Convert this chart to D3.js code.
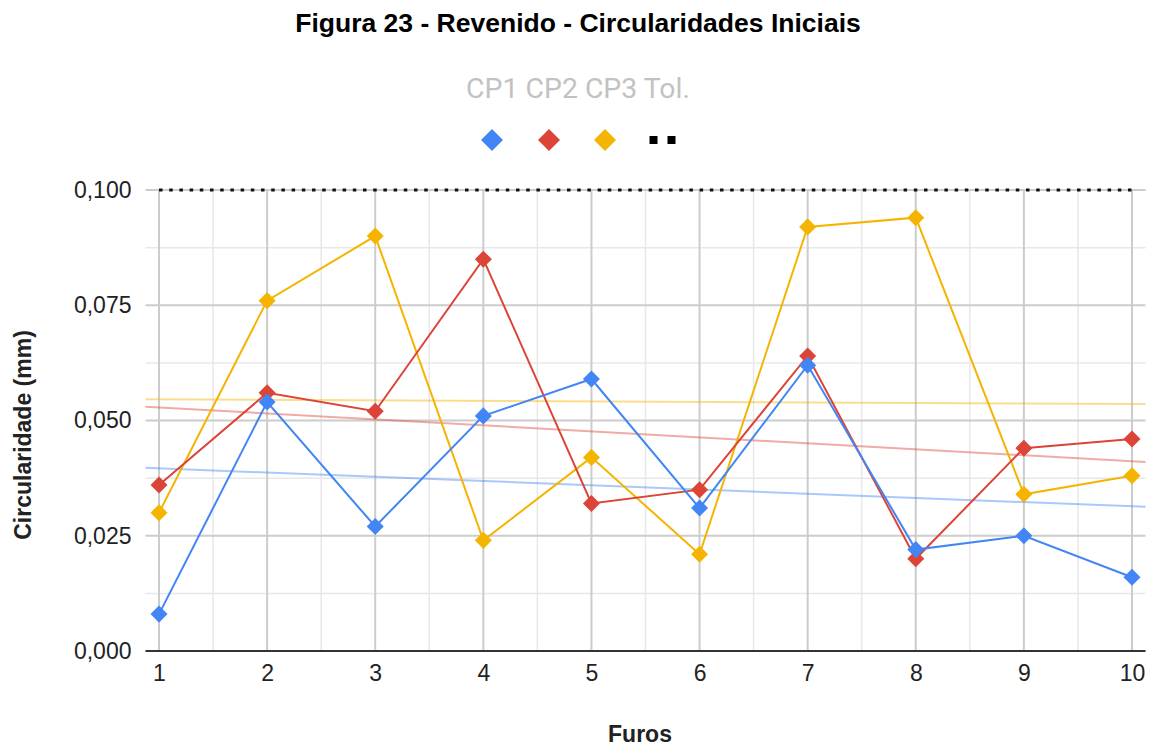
<!DOCTYPE html>
<html>
<head>
<meta charset="utf-8">
<script src="https://cdn.jsdelivr.net/npm/d3@7"></script>
<style>
  body { margin: 0; background: #fff; }
  svg { display: block; }
</style>
</head>
<body>
<div id="chart"></div>
<script>
// holes on the x axis
var furos = [1, 2, 3, 4, 5, 6, 7, 8, 9, 10];

// circularity per specimen (mm)
var cp1 = [0.008, 0.054, 0.027, 0.051, 0.059, 0.031, 0.062, 0.022, 0.025, 0.016];
var cp2 = [0.036, 0.056, 0.052, 0.085, 0.032, 0.035, 0.064, 0.020, 0.044, 0.046];
var cp3 = [0.030, 0.076, 0.090, 0.024, 0.042, 0.021, 0.092, 0.094, 0.034, 0.038];
var tol = [0.1, 0.1, 0.1, 0.1, 0.1, 0.1, 0.1, 0.1, 0.1, 0.1];

var legendLabels = ["CP1", "CP2", "CP3", "Tol."];
var yTicks = [0, 0.025, 0.05, 0.075, 0.1];
var yMinor = [0.0125, 0.0375, 0.0625, 0.0875];
var xMinor = [1.5, 2.5, 3.5, 4.5, 5.5, 6.5, 7.5, 8.5, 9.5];

var colors = ["#4285f4", "#db4437", "#f4b400"];
var series = [cp1, cp2, cp3];

var width = 1154, height = 747;
var font = "Arial, 'Liberation Sans', sans-serif";

var svg = d3.select("#chart").append("svg")
    .attr("width", width)
    .attr("height", height);

var x = d3.scaleLinear().domain([0.875, 10.125]).range([145.5, 1145.5]);
var y = d3.scaleLinear().domain([0, 0.1]).range([651, 190]);

var fmt = function(v){ return d3.format(".3f")(v).replace(".", ","); };

// grid
var grid = svg.append("g");
grid.selectAll("line.ymin").data(yMinor).enter().append("line")
    .attr("x1", x.range()[0]).attr("x2", x.range()[1])
    .attr("y1", function(d){ return y(d); }).attr("y2", function(d){ return y(d); })
    .style("stroke", "#e8e8e8").style("stroke-width", 1.5);
grid.selectAll("line.xmin").data(xMinor).enter().append("line")
    .attr("x1", function(d){ return x(d); }).attr("x2", function(d){ return x(d); })
    .attr("y1", y(0)).attr("y2", y(0.1))
    .style("stroke", "#e8e8e8").style("stroke-width", 1.5);
grid.selectAll("line.ymaj").data(yTicks).enter().append("line")
    .attr("x1", x.range()[0]).attr("x2", x.range()[1])
    .attr("y1", function(d){ return y(d); }).attr("y2", function(d){ return y(d); })
    .style("stroke", "#cccccc").style("stroke-width", 2);
grid.selectAll("line.xmaj").data(furos).enter().append("line")
    .attr("x1", function(d){ return x(d); }).attr("x2", function(d){ return x(d); })
    .attr("y1", y(0)).attr("y2", y(0.1))
    .style("stroke", "#cccccc").style("stroke-width", 2);

// y axis labels
var yAxis = d3.axisLeft(y).tickValues(yTicks).tickFormat(fmt).tickSize(0).tickPadding(14);
svg.append("g").attr("transform", "translate(" + x.range()[0] + ",0)").call(yAxis)
    .call(function(g){ g.select(".domain").remove(); })
    .selectAll("text")
    .style("font-family", font)
    .style("font-size", "23px").style("fill", "#222");

// x axis labels
var xAxis = d3.axisBottom(x).tickValues(furos).tickFormat(d3.format("d")).tickSize(0).tickPadding(14);
svg.append("g").attr("transform", "translate(0," + y(0) + ")").call(xAxis)
    .call(function(g){ g.select(".domain").remove(); })
    .selectAll("text")
    .style("font-family", font)
    .style("font-size", "23px").style("fill", "#222");

// trendlines (least squares)
function trend(vals){
    var mx = d3.mean(furos), my = d3.mean(vals);
    var sxy = d3.sum(furos, function(f, i){ return (f - mx) * (vals[i] - my); });
    var sxx = d3.sum(furos, function(f){ return (f - mx) * (f - mx); });
    var b = sxy / sxx;
    return function(t){ return my + b * (t - mx); };
}
series.forEach(function(vals, i){
    var f = trend(vals);
    var ends = x.domain();
    svg.append("line")
        .attr("x1", x(ends[0])).attr("y1", y(f(ends[0])))
        .attr("x2", x(ends[1])).attr("y2", y(f(ends[1])))
        .style("stroke", colors[i]).style("stroke-opacity", 0.45)
        .style("stroke-width", 2);
});

// baseline
svg.append("line")
    .attr("x1", x.range()[0]).attr("x2", x.range()[1])
    .attr("y1", y(0)).attr("y2", y(0))
    .style("stroke", "#333").style("stroke-width", 2);

// tolerance line
var line = d3.line()
    .x(function(d, i){ return x(furos[i]); })
    .y(function(d){ return y(d); });

svg.append("path").datum(tol)
    .attr("d", line)
    .style("fill", "none").style("stroke", "#111")
    .style("stroke-width", 3).style("stroke-dasharray", "3.5,6.7");

// series, last first so CP1 ends up on top
var diamond = d3.symbol().type(d3.symbolDiamond2).size(185);
for(var i = series.length - 1; i >= 0; i--){
    var g = svg.append("g");
    g.append("path").datum(series[i])
        .attr("d", line)
        .style("fill", "none").style("stroke", colors[i]).style("stroke-width", 2);
    g.selectAll("path.pt").data(series[i]).enter().append("path")
        .attr("class", "pt")
        .attr("d", diamond)
        .attr("transform", function(d, j){ return "translate(" + x(furos[j]) + "," + y(d) + ")"; })
        .style("fill", colors[i]);
}

// title
svg.append("text")
    .attr("x", 578).attr("y", 32)
    .attr("text-anchor", "middle")
    .style("font-family", font)
    .style("font-size", "26.5px").style("font-weight", "bold").style("fill", "#000")
    .text("Figura 23 - Revenido - Circularidades Iniciais");

// legend
svg.append("text")
    .attr("x", 578).attr("y", 98)
    .attr("text-anchor", "middle")
    .style("font-family", "Roboto, sans-serif")
    .style("font-size", "28.4px").style("fill", "#c2c2c2")
    .text(legendLabels.join(" "));

var legendX = [492, 549, 605];
var bigDiamond = d3.symbol().type(d3.symbolDiamond2).size(310);
colors.forEach(function(c, i){
    svg.append("path")
        .attr("d", bigDiamond)
        .attr("transform", "translate(" + legendX[i] + ",140)")
        .style("fill", c);
});
[653.5, 671.5].forEach(function(cx){
    svg.append("rect")
        .attr("x", cx - 4).attr("y", 136).attr("width", 8).attr("height", 8)
        .style("fill", "#000");
});

// axis titles
svg.append("text")
    .attr("transform", "translate(31,435) rotate(-90)")
    .attr("text-anchor", "middle")
    .style("font-family", font)
    .style("font-size", "23px").style("font-weight", "bold").style("fill", "#222")
    .text("Circularidade (mm)");

svg.append("text")
    .attr("x", 640).attr("y", 742)
    .attr("text-anchor", "middle")
    .style("font-family", font)
    .style("font-size", "23px").style("font-weight", "bold").style("fill", "#222")
    .text("Furos");
</script>
</body>
</html>
